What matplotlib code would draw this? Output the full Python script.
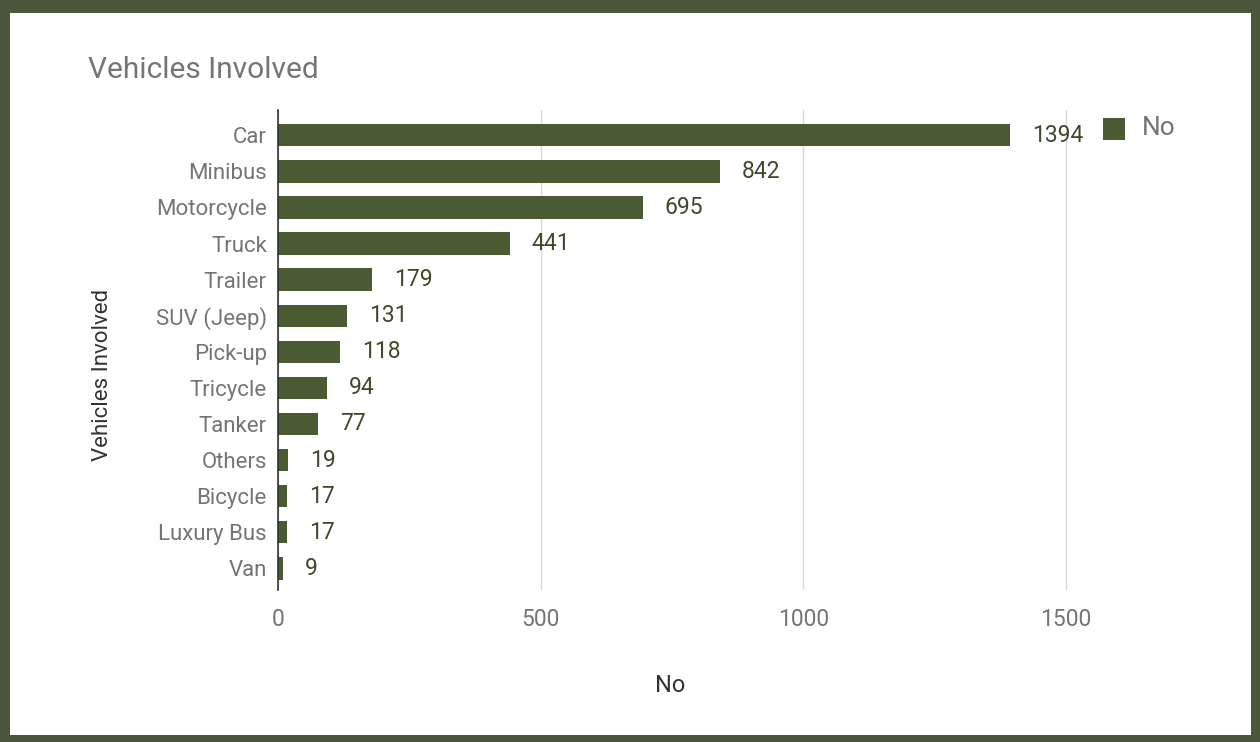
import matplotlib
matplotlib.use("Agg")
import matplotlib.pyplot as plt
from matplotlib.patches import Rectangle, FancyBboxPatch

categories = ["Car", "Minibus", "Motorcycle", "Truck", "Trailer", "SUV (Jeep)",
              "Pick-up", "Tricycle", "Tanker", "Others", "Bicycle", "Luxury Bus", "Van"]
values = [1394, 842, 695, 441, 179, 131, 118, 94, 77, 19, 17, 17, 9]
xticks = [0, 500, 1000, 1500]
series_name = "No"

W, H = 1260, 742
plt.rcParams['font.family'] = ['Roboto', 'DejaVu Sans']
fig = plt.figure(figsize=(W / 100, H / 100), dpi=100)
fig.patch.set_facecolor('#4a573c')
fig.add_artist(Rectangle((10 / W, 7 / H), (1251 - 10) / W, (735 - 13) / H,
                         transform=fig.transFigure, facecolor='white',
                         edgecolor='none', zorder=0))

bar_color = '#4a5a32'
gray = '#757575'

ax_l, ax_r, ax_t, ax_b = 278, 1092, 110, 590
ax = fig.add_axes([ax_l / W, 1 - ax_b / H, (ax_r - ax_l) / W, (ax_b - ax_t) / H])
ax.set_facecolor('none')

y = list(range(len(categories)))
ax.barh(y, values, height=0.62, color=bar_color, zorder=3)
for yi, v in zip(y, values):
    ax.annotate(str(v), (v, yi), xytext=(22, 0), textcoords='offset pixels',
                va='center', ha='left', fontsize=16.5, color='#3f4a2c', zorder=4)

ax.set_xlim(0, 1550)
ax.set_ylim(12.6, -0.7)
ax.set_yticks(y)
ax.set_yticklabels(categories, fontsize=16, color=gray)
ax.set_xticks(xticks)
ax.set_xticklabels([str(t) for t in xticks], fontsize=16.5, color=gray)
ax.tick_params(axis='both', length=0)
ax.tick_params(axis='y', pad=8)
ax.tick_params(axis='x', pad=13)
ax.grid(axis='x', color='#d9d9d9', linewidth=1, zorder=0)
for s in ['top', 'right', 'bottom']:
    ax.spines[s].set_visible(False)
ax.spines['left'].set_color('#333333')
ax.spines['left'].set_linewidth(1.2)
ax.spines['left'].set_zorder(5)

fig.text(88 / W, 1 - 70 / H, "Vehicles Involved", fontsize=21.5, color=gray,
         ha='left', va='center')
fig.text(102 / W, 1 - 375 / H, "Vehicles Involved", fontsize=16, color='#333333',
         rotation=90, ha='center', va='center')
fig.text(670 / W, 1 - 685 / H, "No", fontsize=17, color='#333333',
         ha='center', va='center')

# legend
fig.add_artist(Rectangle((1103 / W, 1 - 140 / H), 22 / W, 22 / H,
                         transform=fig.transFigure, facecolor=bar_color,
                         edgecolor='none'))
fig.text(1142 / W, 1 - 128 / H, series_name, fontsize=19, color=gray,
         ha='left', va='center')

fig.savefig("out.png", dpi=100, facecolor=fig.get_facecolor())
